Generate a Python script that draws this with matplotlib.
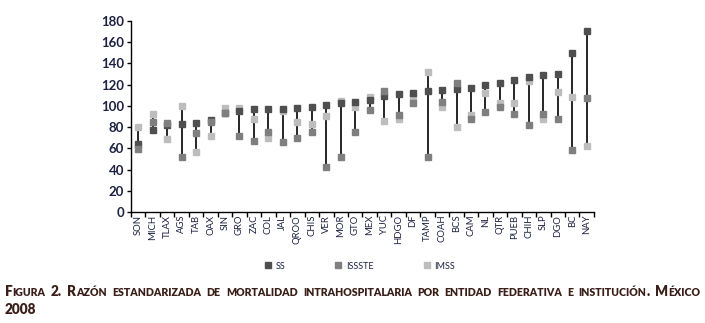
import numpy as np
import matplotlib
matplotlib.use("Agg")
from matplotlib import pyplot as plt
from matplotlib.lines import Line2D

plt.rcParams['font.family'] = ['Lato', 'DejaVu Sans']

estados = ["SON", "MICH", "TLAX", "AGS", "TAB", "OAX", "SIN", "GRO", "ZAC", "COL",
           "JAL", "QROO", "CHIS", "VER", "MOR", "GTO", "MEX", "YUC", "HDGO", "DF",
           "TAMP", "COAH", "BCS", "CAM", "NL", "QTR", "PUEB", "CHIH", "SLP", "DGO",
           "BC", "NAY"]

ss = [64, 77, 82, 83, 84, 87, 93, 95, 97, 97,
      97, 98, 99, 101, 103, 104, 106, 109, 111, 112,
      114, 115, 116, 117, 120, 122, 124, 127, 129, 130,
      150, 171]
issste = [59, 85, 84, 52, 74, 85, 93, 72, 67, 75,
          66, 70, 75, 42, 52, 75, 96, 114, 91, 103,
          52, 104, 122, 88, 94, 99, 92, 82, 92, 88,
          58, 107]
imss = [80, 92, 69, 100, 57, 72, 98, 98, 88, 70,
        95, 85, 83, 90, 105, 99, 108, 86, 88, 108,
        132, 99, 80, 91, 112, 103, 103, 123, 88, 113,
        108, 62]

c_ss = "#4f4f4f"
c_issste = "#7f7f7f"
c_imss = "#bdbdbd"
c_txt = "#1e2242"
c_cap = "#3a1f18"

fig = plt.figure(figsize=(7.05, 3.23), dpi=100)
ax = fig.add_axes([0.1858, 0.3437, 0.6567, 0.5913])

x = np.arange(len(estados))
todos = np.array([ss, issste, imss])
ax.vlines(x, todos.min(axis=0), todos.max(axis=0), color="#151515", lw=1.3, zorder=2)
ax.plot(x, imss, "s", color=c_imss, ms=4.8, ls="none", zorder=3, label="IMSS")
ax.plot(x, ss, "s", color=c_ss, ms=4.8, ls="none", zorder=4, label="SS")
ax.plot(x, issste, "s", color=c_issste, ms=4.8, ls="none", zorder=5, label="ISSSTE")

ax.set_xlim(-0.5, len(estados) - 0.5)
ax.set_ylim(0, 180)
ax.set_yticks(range(0, 181, 20))
ax.set_xticks(np.arange(-0.5, len(estados)), minor=False)
ax.set_xticklabels([])
ax.set_xticks(x, minor=True)
ax.set_xticklabels(estados, minor=True, rotation=90, fontsize=6.8, color=c_txt)
ax.tick_params(axis="x", which="major", direction="out", length=3.5, width=1)
ax.tick_params(axis="x", which="minor", length=0, pad=2)
ax.tick_params(axis="y", direction="out", length=3, width=1, labelsize=9.5,
               labelcolor=c_txt, pad=2)
for lab in ax.get_yticklabels():
    lab.set_fontweight("bold")
for s in ["top", "right"]:
    ax.spines[s].set_visible(False)
for s in ["left", "bottom"]:
    ax.spines[s].set_linewidth(1)

handles = [Line2D([], [], marker="s", ls="none", color=c, ms=4) for c in (c_ss, c_issste, c_imss)]
fig.legend(handles, ["SS", "ISSSTE", "IMSS"], loc="center", bbox_to_anchor=(0.51, 0.176),
           ncol=3, frameon=False, fontsize=6.5, handlelength=0.8, handletextpad=0.4,
           columnspacing=5.5, labelcolor=c_txt)


def small_caps(fig, words, y, x0, x1, big=9.8, small=7.6, justify=True):
    r = fig.canvas.get_renderer()
    W = fig.get_figwidth() * fig.dpi
    pieces = []
    widths = []
    for w in words:
        parts = []
        buf, cur = "", None
        for ch in w:
            kind = "small" if ch.islower() else "big"
            if kind != cur and buf:
                parts.append((buf, cur))
                buf = ""
            cur = kind
            buf += ch.upper()
        parts.append((buf, cur))
        ww = 0
        objs = []
        for txt, kind in parts:
            t = fig.text(0, y, txt, fontsize=big if kind == "big" else small,
                         fontweight="heavy", color=c_cap, va="baseline", ha="left")
            ww += t.get_window_extent(r).width
            objs.append(t)
        pieces.append(objs)
        widths.append(ww)
    space = fig.text(0, 0, "a a", fontsize=big).get_window_extent(r).width - \
        fig.text(0, 0, "aa", fontsize=big).get_window_extent(r).width
    total = x1 - x0
    if justify and len(words) > 1:
        gap = (total - sum(widths)) / (len(words) - 1)
    else:
        gap = space
    pos = x0
    for objs in pieces:
        for t in objs:
            t.set_x(pos / W)
            pos += t.get_window_extent(r).width
        pos += gap
    for t in fig.texts[-2:]:
        t.remove()


H = fig.get_figheight() * fig.dpi
linea1 = "Figura 2. Razón estandarizada de mortalidad intrahospitalaria por entidad federativa e institución. México".split()
small_caps(fig, linea1, 1 - 296 / H, 5, 700)
small_caps(fig, ["2008"], 1 - 314 / H, 5, 700, justify=False)

fig.savefig("out.png", dpi=100)
